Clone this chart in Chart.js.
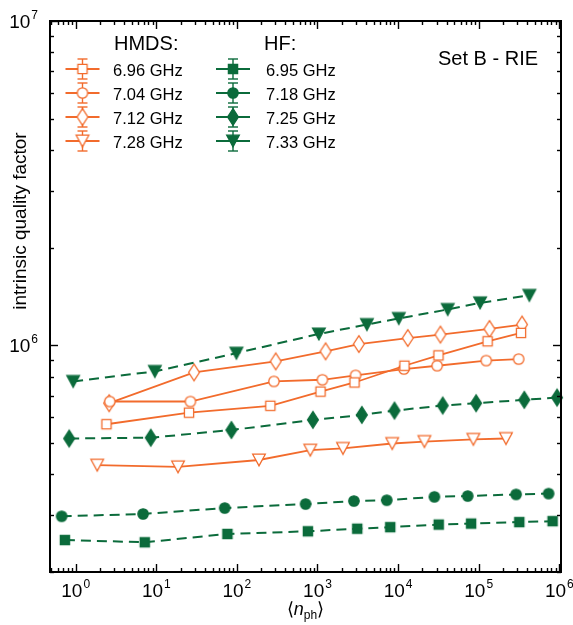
<!DOCTYPE html>
<html><head><meta charset="utf-8">
<script src="https://cdn.jsdelivr.net/npm/chart.js@4.4.1/dist/chart.umd.min.js"></script>
<style>html,body{margin:0;padding:0;background:#fff}canvas{display:block}</style>
</head><body>
<canvas id="c" width="573" height="625"></canvas>
<script>
const ORANGE = '#F26B2C';
const GREEN = '#0B6B3B';
const FONT = '"Liberation Sans", Arial, Helvetica, sans-serif';

// ---- data: mean photon number <n_ph> and intrinsic quality factor ----
// HMDS
const hmds696_n = [2.41, 25.5, 260, 1090, 2880, 12000, 31700, 129000, 335000];
const hmds696_q = [5.71e5, 6.20e5, 6.51e5, 7.20e5, 7.68e5, 8.65e5, 9.31e5, 1.029e6, 1.092e6];
const hmds704_n = [2.65, 26.5, 288, 1150, 2970, 11800, 30500, 124000, 313000];
const hmds704_q = [6.71e5, 6.71e5, 7.74e5, 7.83e5, 8.08e5, 8.45e5, 8.65e5, 8.97e5, 9.07e5];
const hmds712_n = [2.6, 29.4, 303, 1260, 3260, 13200, 33500, 136000, 345000];
const hmds712_q = [6.63e5, 8.25e5, 8.92e5, 9.58e5, 1.009e6, 1.053e6, 1.079e6, 1.123e6, 1.159e6];
const hmds728_n = [1.85, 18.6, 188, 814, 2070, 8450, 21200, 85900, 218000];
const hmds728_q = [4.27e5, 4.22e5, 4.43e5, 4.75e5, 4.81e5, 4.98e5, 5.05e5, 5.13e5, 5.16e5];
// HF
const hf695_n = [0.735, 7.2, 76.3, 760, 3110, 7980, 31900, 80500, 319000, 826000];
const hf695_q = [2.51e5, 2.47e5, 2.62e5, 2.67e5, 2.72e5, 2.75e5, 2.80e5, 2.82e5, 2.85e5, 2.87e5];
const hf718_n = [0.67, 6.86, 70.6, 712, 2830, 7240, 28200, 73100, 291000, 737000];
const hf718_q = [2.97e5, 3.02e5, 3.15e5, 3.24e5, 3.31e5, 3.33e5, 3.41e5, 3.43e5, 3.47e5, 3.49e5];
const hf725_n = [0.83, 8.55, 85.5, 877, 3550, 9020, 35800, 92900, 368000, 937000];
const hf725_q = [5.16e5, 5.19e5, 5.48e5, 5.89e5, 6.10e5, 6.29e5, 6.52e5, 6.63e5, 6.79e5, 6.90e5];
const hf733_n = [0.93, 9.6, 98.6, 1040, 4100, 10200, 41300, 104000, 425000];
const hf733_q = [7.74e5, 8.31e5, 9.46e5, 1.084e6, 1.159e6, 1.21e6, 1.29e6, 1.352e6, 1.426e6];

const hmdsLabels = ['6.96 GHz', '7.04 GHz', '7.12 GHz', '7.28 GHz'];
const hfLabels = ['6.95 GHz', '7.18 GHz', '7.25 GHz', '7.33 GHz'];
const xExponents = [0, 1, 2, 3, 4, 5, 6];
const yExponents = [6, 7];

const X_MIN = 0.48, X_MAX = 1.05e6, Y_MIN = 2e5, Y_MAX = 1e7;

// ---- marker images ----
function marker(shape, color, filled) {
  const c = document.createElement('canvas');
  c.width = 20; c.height = 22;
  const g = c.getContext('2d');
  const cx = 10, cy = 11;
  g.lineWidth = 1.3;
  g.strokeStyle = color;
  g.fillStyle = filled ? color : '#ffffff';
  g.beginPath();
  if (shape === 'square') {
    g.rect(cx - 4.6, cy - 4.6, 9.2, 9.2);
  } else if (shape === 'circle') {
    g.arc(cx, cy, 5.2, 0, Math.PI * 2);
  } else if (shape === 'diamond') {
    g.moveTo(cx, cy - 8.3); g.lineTo(cx + 5.4, cy); g.lineTo(cx, cy + 8.3); g.lineTo(cx - 5.4, cy); g.closePath();
  } else {
    g.moveTo(cx - 6.3, cy - 5.8); g.lineTo(cx + 6.3, cy - 5.8); g.lineTo(cx, cy + 5.8); g.closePath();
  }
  g.fill(); g.stroke();
  return c;
}
const shapes = ['square', 'circle', 'diamond', 'tri'];
const mOpen = shapes.map(s => marker(s, ORANGE, false));
const mFill = shapes.map(s => marker(s, GREEN, true));

function pts(n, q) { return n.map((v, i) => ({x: v, y: q[i]})); }

const hfSets = [[hf695_n, hf695_q], [hf718_n, hf718_q], [hf725_n, hf725_q], [hf733_n, hf733_q]];
const hmdsSets = [[hmds696_n, hmds696_q], [hmds704_n, hmds704_q], [hmds712_n, hmds712_q], [hmds728_n, hmds728_q]];

const datasets = [];
hfSets.forEach((s, i) => datasets.push({
  label: 'HF ' + hfLabels[i], data: pts(s[0], s[1]),
  borderColor: GREEN, borderWidth: 2, borderDash: [10, 6],
  pointStyle: mFill[i], pointRadius: 6, tension: 0, clip: false, fill: false
}));
hmdsSets.forEach((s, i) => datasets.push({
  label: 'HMDS ' + hmdsLabels[i], data: pts(s[0], s[1]),
  borderColor: ORANGE, borderWidth: 1.8,
  pointStyle: mOpen[i], pointRadius: 6, tension: 0, clip: false, fill: false
}));

function line(ctx, x1, y1, x2, y2) { ctx.beginPath(); ctx.moveTo(x1, y1); ctx.lineTo(x2, y2); ctx.stroke(); }

function powLabel(ctx, exp, x, base, align) {
  ctx.font = '19px ' + FONT;
  const w1 = ctx.measureText('10').width;
  ctx.font = '12px ' + FONT;
  const w2 = ctx.measureText(String(exp)).width;
  const tot = w1 + 1 + w2;
  let x0 = align === 'center' ? x - tot / 2 : x - tot;
  ctx.textAlign = 'left';
  ctx.textBaseline = 'alphabetic';
  ctx.font = '19px ' + FONT;
  ctx.fillText('10', x0, base);
  ctx.font = '12px ' + FONT;
  ctx.fillText(String(exp), x0 + w1 + 1, base - 9);
}

const decor = {
  id: 'decor',
  afterDatasetsDraw(chart) {
    const ctx = chart.ctx, a = chart.chartArea, xs = chart.scales.x, ys = chart.scales.y;
    ctx.save();
    ctx.strokeStyle = '#000';
    ctx.fillStyle = '#000';
    ctx.lineWidth = 1.4;
    for (let e = -1; e <= 6; e++) for (let m = 1; m <= 9; m++) {
      const v = m * Math.pow(10, e);
      if (v < X_MIN || v > X_MAX) continue;
      const px = Math.round(xs.getPixelForValue(v)) + 0.5;
      const L = m === 1 ? 8 : 4;
      line(ctx, px, a.bottom, px, a.bottom - L);
      line(ctx, px, a.top, px, a.top + L);
    }
    for (let e = 5; e <= 7; e++) for (let m = 1; m <= 9; m++) {
      const v = m * Math.pow(10, e);
      if (v < Y_MIN * 0.999 || v > Y_MAX * 1.001) continue;
      const py = Math.round(ys.getPixelForValue(v)) + 0.5;
      const L = m === 1 ? 8 : 4;
      line(ctx, a.left, py, a.left + L, py);
      line(ctx, a.right, py, a.right - L, py);
    }
    ctx.lineWidth = 2;
    ctx.strokeRect(a.left, a.top, a.right - a.left, a.bottom - a.top);

    // tick labels
    xExponents.forEach(e => powLabel(ctx, e, xs.getPixelForValue(Math.pow(10, e)), a.bottom + 25, 'center'));
    yExponents.forEach(e => powLabel(ctx, e, 38, ys.getPixelForValue(Math.pow(10, e)) + 7, 'right'));

    // x axis title  <n_ph>
    ctx.textBaseline = 'alphabetic';
    ctx.textAlign = 'left';
    const parts = [['\u27E8', '18px ' + FONT, 0], ['n', 'italic 18px ' + FONT, 0], ['ph', '12px ' + FONT, 4], ['\u27E9', '18px ' + FONT, 0]];
    let tw = 0;
    parts.forEach(p => { ctx.font = p[1]; p.push(ctx.measureText(p[0]).width); tw += p[3]; });
    let xx = (a.left + a.right) / 2 - tw / 2;
    parts.forEach(p => { ctx.font = p[1]; ctx.fillText(p[0], xx, 615 + p[2]); xx += p[3]; });

    // y axis title
    ctx.save();
    ctx.translate(21, 221);
    ctx.rotate(-Math.PI / 2);
    ctx.font = '19px ' + FONT;
    ctx.textAlign = 'center';
    ctx.textBaseline = 'middle';
    ctx.fillText('intrinsic quality factor', 0, 0);
    ctx.restore();

    // annotation
    ctx.font = '20px ' + FONT;
    ctx.textAlign = 'left';
    ctx.textBaseline = 'alphabetic';
    ctx.fillText('Set B - RIE', 438, 65);

    // legend
    ctx.fillText('HMDS:', 114, 50);
    ctx.fillText('HF:', 264, 50);
    const rows = [69, 93, 117, 141];
    const cols = [{cx: 82.5, tx: 113, col: ORANGE, labels: hmdsLabels, mk: mOpen},
                  {cx: 233, tx: 266, col: GREEN, labels: hfLabels, mk: mFill}];
    cols.forEach(c => {
      rows.forEach((ry, i) => {
        ctx.strokeStyle = c.col;
        ctx.lineWidth = 2;
        line(ctx, c.cx - 17, ry, c.cx + 17, ry);
        ctx.lineWidth = 1.4;
        line(ctx, c.cx, ry - 10, c.cx, ry + 10);
        line(ctx, c.cx - 5, ry - 10, c.cx + 5, ry - 10);
        line(ctx, c.cx - 5, ry + 10, c.cx + 5, ry + 10);
        const img = c.mk[i];
        ctx.drawImage(img, c.cx - img.width / 2, ry - img.height / 2);
        ctx.fillStyle = '#000';
        ctx.font = '16.5px ' + FONT;
        ctx.fillText(c.labels[i], c.tx, ry + 6.5);
      });
    });
    ctx.restore();
  }
};

new Chart(document.getElementById('c'), {
  type: 'line',
  data: {datasets},
  options: {
    responsive: false,
    animation: false,
    devicePixelRatio: 1,
    layout: {padding: {left: 50, right: 12, top: 21, bottom: 53}},
    plugins: {legend: {display: false}, tooltip: {enabled: false}},
    scales: {
      x: {type: 'logarithmic', min: X_MIN, max: X_MAX, display: false},
      y: {type: 'logarithmic', min: Y_MIN, max: Y_MAX, display: false}
    }
  },
  plugins: [decor]
});
</script>
</body></html>
